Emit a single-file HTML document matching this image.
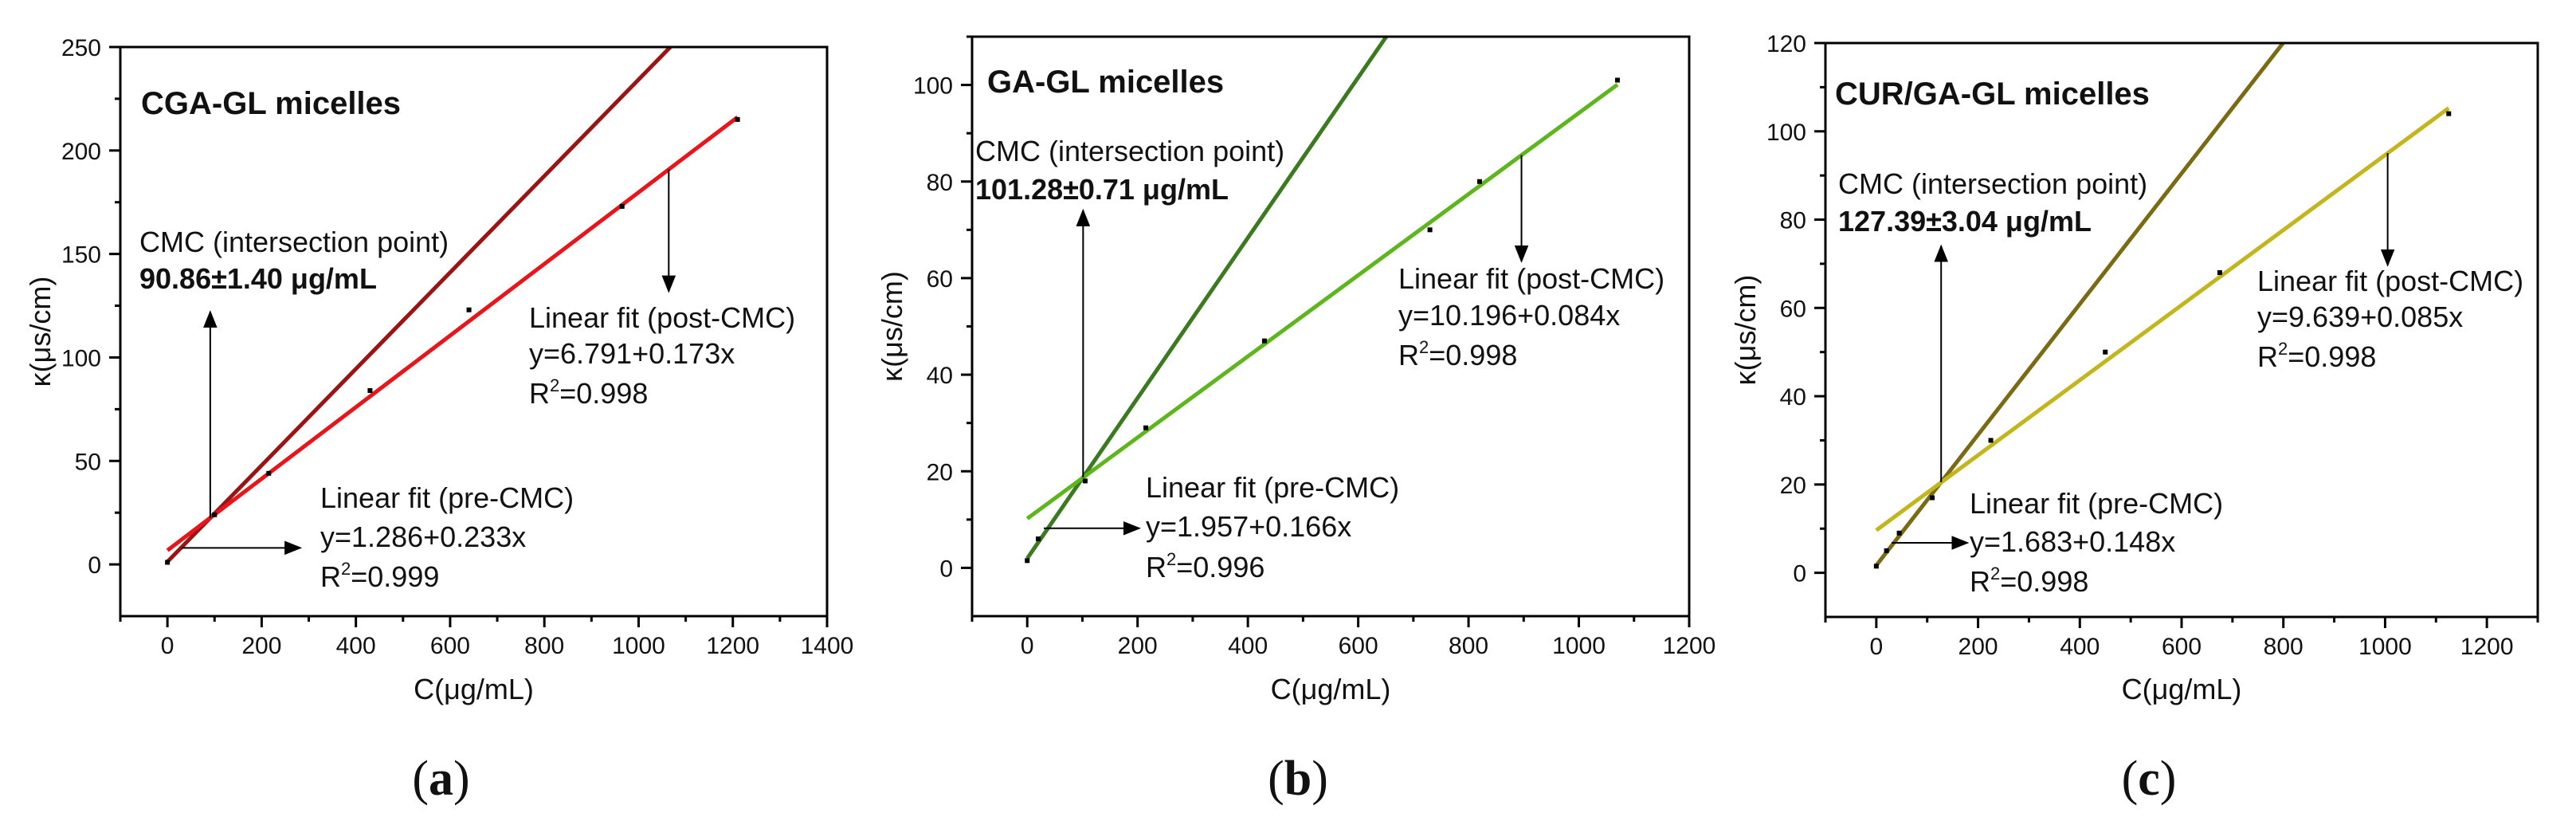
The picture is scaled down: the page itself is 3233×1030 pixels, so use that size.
<!DOCTYPE html>
<html><head><meta charset="utf-8"><style>
html,body{margin:0;padding:0;background:#fff}
svg{display:block}
text{font-family:"Liberation Sans",sans-serif;fill:#111}
</style></head><body>
<svg id="fig" width="3233" height="1030" viewBox="0 0 3233 1030" xmlns="http://www.w3.org/2000/svg">
<defs><marker id="ah" viewBox="0 0 10 10" refX="9" refY="5" markerWidth="22" markerHeight="22" markerUnits="userSpaceOnUse" orient="auto"><path d="M0,1 L10,5 L0,9 z" fill="#000"/></marker></defs>
</svg>
<script>
// ---- Panel data ----
const panelLetters = ['a','b','c'];
const panelTitles = ['CGA-GL micelles','GA-GL micelles','CUR/GA-GL micelles'];
const cmcValues = ['90.86±1.40 μg/mL','101.28±0.71 μg/mL','127.39±3.04 μg/mL'];
const preIntercepts = [1.286, 1.957, 1.683];
const preSlopes = [0.233, 0.166, 0.148];
const postIntercepts = [6.791, 10.196, 9.639];
const postSlopes = [0.173, 0.084, 0.085];
const preR2 = ['0.999','0.996','0.998'];
const postR2 = ['0.998','0.998','0.998'];
const postEndX = [1210, 1070, 1125];
const cmcX = [90.86, 101.28, 127.39];
const ptsXa = [0, 100, 215, 430, 640, 965, 1210];
const ptsYa = [1, 24, 44, 84, 123, 173, 215];
const ptsXb = [0, 20, 105, 215, 430, 730, 820, 1070];
const ptsYb = [1.5, 6, 18, 29, 47, 70, 80, 101];
const ptsXc = [0, 20, 45, 110, 225, 450, 675, 1125];
const ptsYc = [1.5, 5, 9, 17, 30, 50, 68, 104];
const xTicksA = [0,200,400,600,800,1000,1200,1400];
const xTicksB = [0,200,400,600,800,1000,1200];
const xTicksC = [0,200,400,600,800,1000,1200];
const yTicksA = [0,50,100,150,200,250];
const yTicksB = [0,20,40,60,80,100];
const yTicksC = [0,20,40,60,80,100,120];
const xRanges = [[-100,1400],[-100,1200],[-100,1300]];
const yRanges = [[-25,250],[-10,110],[-10,120]];
const cmcArrowTop = [122, 74, 74];
const preArrowY = [8, 8.2, 6.8];
const preArrowEnd = [282, 203, 179];
const postArrowX = [1064, 896, 1005];
const postArrowEnd = [132, 63.5, 69.7];

// ---- layout (not data) ----
const boxes = [{l:151,r:1038,t:59,b:773},{l:1220,r:2120,t:46,b:773},{l:2291,r:3185,t:54,b:774}];
const colors = [['#9a1414','#e8151b'],['#3b7a1f','#5db61b'],['#7a6b12','#c3b51c']];
const txtPos = [
 {title:[177,143],cmc:[175,316,362],post:[664,411,456,506],pre:[402,637,686,736]},
 {title:[1239,116],cmc:[1224,202,250],post:[1755,362,408,458],pre:[1438,624,673,724]},
 {title:[2303,131],cmc:[2307,243,290],post:[2833,365,410,460],pre:[2472,644,692,742]}];
const pts = [[ptsXa,ptsYa],[ptsXb,ptsYb],[ptsXc,ptsYc]];
const xt = [xTicksA,xTicksB,xTicksC], yt=[yTicksA,yTicksB,yTicksC];
const NS='http://www.w3.org/2000/svg', svg=document.getElementById('fig');
function mk(tag, attrs, parent, txt){const e=document.createElementNS(NS,tag);for(const k in attrs)e.setAttribute(k,attrs[k]);if(txt!==undefined)e.textContent=txt;(parent||svg).appendChild(e);return e;}

for(let p=0;p<3;p++){
  const B=boxes[p],[x0,x1]=xRanges[p],[y0,y1]=yRanges[p];
  const sx=v=>B.l+(v-x0)/(x1-x0)*(B.r-B.l);
  const sy=v=>B.b-(v-y0)/(y1-y0)*(B.b-B.t);
  const g=mk('g',{});
  
  
  const clip=mk('clipPath',{id:'c'+p},g); mk('rect',{x:B.l,y:B.t,width:B.r-B.l,height:B.b-B.t},clip);
  const xstep=xt[p][1]-xt[p][0];
  for(let v=x0;v<=x1+1e-6;v+=xstep/2){const major=Math.abs(((v%xstep)+xstep)%xstep)<1e-6;
    const t=mk('line',{x1:sx(v),x2:sx(v),y1:B.b,y2:B.b+(major?14:7),stroke:'#000','stroke-width':3},g);
    
    }
  xt[p].forEach(v=>{const t=mk('text',{x:sx(v),y:B.b+47,'text-anchor':'middle','font-size':30},g,String(v));
    
    });
  const ystep=yt[p][1]-yt[p][0];
  for(let v=yt[p][0];v<=y1+1e-6;v+=ystep/2){const major=Math.abs(((v%ystep)+ystep)%ystep)<1e-6;
    if(v<y0)continue;
    const t=mk('line',{x1:B.l,x2:B.l-(major?14:7),y1:sy(v),y2:sy(v),stroke:'#000','stroke-width':3},g);
    
    }
  yt[p].forEach(v=>{const t=mk('text',{x:B.l-24,y:sy(v)+11,'text-anchor':'end','font-size':30},g,String(v));
    
    });
  const lg=mk('g',{'clip-path':'url(#c'+p+')'},g);
  const preEnd=(y1-preIntercepts[p])/preSlopes[p];
  const l1=mk('line',{x1:sx(0),y1:sy(preIntercepts[p]),x2:sx(preEnd),y2:sy(y1),stroke:colors[p][0],'stroke-width':5},lg);
  
  
  const l2=mk('line',{x1:sx(0),y1:sy(postIntercepts[p]),x2:sx(postEndX[p]),y2:sy(postIntercepts[p]+postSlopes[p]*postEndX[p]),stroke:colors[p][1],'stroke-width':5},lg);
  
  
  pts[p][0].forEach((x,i)=>{const r=mk('rect',{x:sx(x)-3,y:sy(pts[p][1][i])-3,width:6,height:6,fill:'#000'},lg);
    
    });
  const fr=mk('rect',{x:B.l,y:B.t,width:B.r-B.l,height:B.b-B.t,fill:'none',stroke:'#000','stroke-width':3},g);
  
  
  const cy=preIntercepts[p]+preSlopes[p]*cmcX[p];
  const a1=mk('line',{x1:sx(cmcX[p]),y1:sy(cy),x2:sx(cmcX[p]),y2:sy(cmcArrowTop[p]),stroke:'#000','stroke-width':2,'marker-end':'url(#ah)'},g);
  
  
  const a2=mk('line',{x1:sx(30),y1:sy(preArrowY[p]),x2:sx(preArrowEnd[p]),y2:sy(preArrowY[p]),stroke:'#000','stroke-width':2,'marker-end':'url(#ah)'},g);
  
  
  const py=postIntercepts[p]+postSlopes[p]*postArrowX[p];
  const a3=mk('line',{x1:sx(postArrowX[p]),y1:sy(py),x2:sx(postArrowX[p]),y2:sy(postArrowEnd[p]),stroke:'#000','stroke-width':2,'marker-end':'url(#ah)'},g);
  
  
  const T=txtPos[p];
  const tt=mk('text',{x:T.title[0],y:T.title[1],'font-size':40,'font-weight':'bold'},g,panelTitles[p]);
  
  
  const c1=mk('text',{x:T.cmc[0],y:T.cmc[1],'font-size':36},g,'CMC (intersection point)');
  
  
  const c2=mk('text',{x:T.cmc[0],y:T.cmc[2],'font-size':36,'font-weight':'bold'},g,cmcValues[p]);
  
  
  const fits=[['post',postIntercepts[p],postSlopes[p],postR2[p]],['pre',preIntercepts[p],preSlopes[p],preR2[p]]];
  fits.forEach(f=>{const P=T[f[0]];
    const a=mk('text',{x:P[0],y:P[1],'font-size':36},g,'Linear fit ('+f[0]+'-CMC)');
    
    
    const b=mk('text',{x:P[0],y:P[2],'font-size':36},g,'y='+f[1].toFixed(3)+'+'+f[2].toFixed(3)+'x');
    
    
    const c=mk('text',{x:P[0],y:P[3],'font-size':36},g);
    
    
    mk('tspan',{},c,'R');mk('tspan',{dy:-15,'font-size':22},c,'2');mk('tspan',{dy:15},c,'='+f[3]);});
  const xl=mk('text',{x:(B.l+B.r)/2,y:877,'text-anchor':'middle','font-size':36},g,'C(μg/mL)');
  
  
  const yx=B.l-88, yy=(B.t+B.b)/2;
  const yl=mk('text',{x:yx,y:yy,'text-anchor':'middle','font-size':36,transform:'rotate(-90 '+yx+' '+yy+')'},g,'κ(μs/cm)');
  
  
  const pl=mk('text',{x:(B.l+B.r)/2-41,y:997,'text-anchor':'middle','font-size':62,style:'font-family:"Liberation Serif",serif'},g);
  
  
  mk('tspan',{},pl,'(');mk('tspan',{'font-weight':'bold'},pl,panelLetters[p]);mk('tspan',{},pl,')');
}
</script>
</body></html>
